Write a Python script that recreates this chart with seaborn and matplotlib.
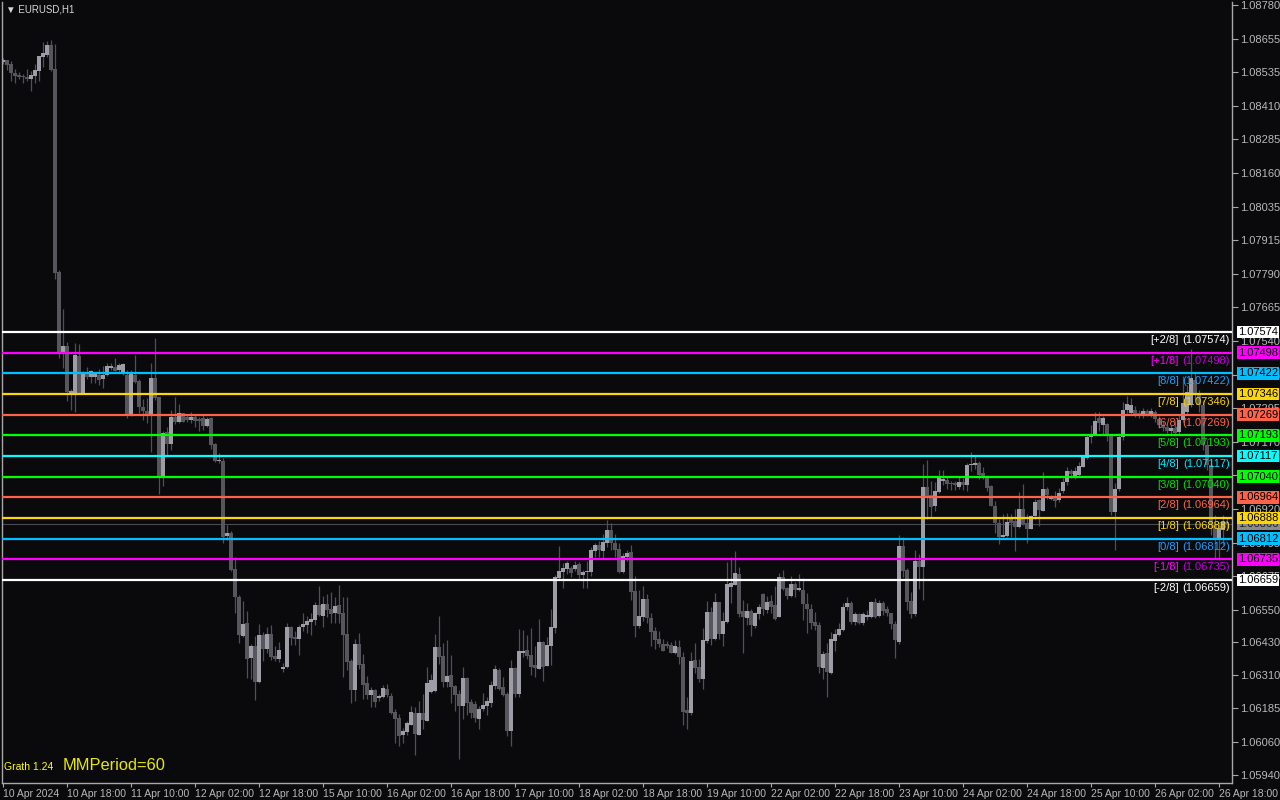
import matplotlib
matplotlib.use("Agg")
import matplotlib.pyplot as plt
import numpy as np
import pandas as pd
import seaborn as sns

# EURUSD H1, 10 Apr 2024 02:00 .. 26 Apr 2024 20:00
opens = [
    1.08570, 1.08578, 1.08563, 1.08530, 1.08522, 1.08519, 1.08515, 1.08507, 1.08519, 1.08537,
    1.08589, 1.08596, 1.08633, 1.08544, 1.07795, 1.07496, 1.07522, 1.07345, 1.07349, 1.07485,
    1.07349, 1.07426, 1.07408, 1.07408, 1.07415, 1.07400, 1.07415, 1.07441, 1.07445, 1.07434,
    1.07423, 1.07415, 1.07268, 1.07415, 1.07393, 1.07297, 1.07282, 1.07271, 1.07404, 1.07334,
    1.07039, 1.07205, 1.07161, 1.07260, 1.07242, 1.07275, 1.07260, 1.07249, 1.07260, 1.07253,
    1.07257, 1.07227, 1.07257, 1.07161, 1.07098, 1.07098, 1.06821, 1.06832, 1.06699, 1.06596,
    1.06452, 1.06500, 1.06371, 1.06415, 1.06282, 1.06456, 1.06404, 1.06459, 1.06378, 1.06367,
    1.06330, 1.06338, 1.06485, 1.06448, 1.06441, 1.06485, 1.06493, 1.06504, 1.06511, 1.06567,
    1.06526, 1.06570, 1.06552, 1.06537, 1.06567, 1.06537, 1.06459, 1.06360, 1.06253, 1.06423,
    1.06349, 1.06279, 1.06234, 1.06253, 1.06223, 1.06227, 1.06257, 1.06231, 1.06172, 1.06150,
    1.06087, 1.06098, 1.06124, 1.06168, 1.06087, 1.06168, 1.06138, 1.06245, 1.06249, 1.06412,
    1.06378, 1.06282, 1.06308, 1.06268, 1.06238, 1.06194, 1.06297, 1.06209, 1.06201, 1.06146,
    1.06183, 1.06194, 1.06205, 1.06268, 1.06327, 1.06264, 1.06238, 1.06102, 1.06334, 1.06238,
    1.06389, 1.06400, 1.06382, 1.06345, 1.06330, 1.06430, 1.06341, 1.06415, 1.06482, 1.06666,
    1.06688, 1.06699, 1.06703, 1.06699, 1.06718, 1.06677, 1.06688, 1.06688, 1.06766, 1.06788,
    1.06766, 1.06795, 1.06843, 1.06795, 1.06773, 1.06688, 1.06744, 1.06762, 1.06618, 1.06489,
    1.06522, 1.06589, 1.06519, 1.06471, 1.06441, 1.06423, 1.06423, 1.06419, 1.06389, 1.06412,
    1.06375, 1.06179, 1.06168, 1.06364, 1.06338, 1.06293, 1.06434, 1.06541, 1.06441, 1.06578,
    1.06459, 1.06504, 1.06633, 1.06640, 1.06681, 1.06544, 1.06519, 1.06544, 1.06489, 1.06533,
    1.06607, 1.06548, 1.06581, 1.06567, 1.06522, 1.06670, 1.06629, 1.06600, 1.06644, 1.06622,
    1.06622, 1.06570, 1.06552, 1.06504, 1.06493, 1.06334, 1.06389, 1.06316, 1.06434, 1.06456,
    1.06474, 1.06559, 1.06574, 1.06504, 1.06533, 1.06500, 1.06522, 1.06522, 1.06578, 1.06526,
    1.06574, 1.06552, 1.06537, 1.06496, 1.06430, 1.06784, 1.06696, 1.06581, 1.06533, 1.06729,
    1.06707, 1.07002, 1.06972, 1.06932, 1.06984, 1.07024, 1.07028, 1.07017, 1.07017, 1.07002,
    1.07020, 1.07009, 1.07083, 1.07083, 1.07090, 1.07054, 1.07039, 1.07006, 1.06932, 1.06869,
    1.06818, 1.06821, 1.06884, 1.06877, 1.06854, 1.06921, 1.06869, 1.06847, 1.06895, 1.06954,
    1.06913, 1.06995, 1.06958, 1.06965, 1.06954, 1.06987, 1.07020, 1.07061, 1.07039, 1.07046,
    1.07076, 1.07109, 1.07186, 1.07194, 1.07257, 1.07231, 1.07234, 1.07194, 1.06910, 1.06995,
    1.07186, 1.07286, 1.07275, 1.07286, 1.07275, 1.07264, 1.07282, 1.07268, 1.07279, 1.07253,
    1.07231, 1.07223, 1.07209, 1.07220, 1.07205, 1.07249, 1.07279, 1.07305, 1.07397, 1.07341,
    1.07305, 1.07157, 1.07083, 1.06862, 1.06806, 1.06843, 1.06873,
]
highs = [
    1.08585, 1.08578, 1.08574, 1.08544, 1.08533, 1.08526, 1.08544, 1.08537, 1.08563, 1.08592,
    1.08644, 1.08648, 1.08651, 1.08637, 1.07803, 1.07659, 1.07537, 1.07364, 1.07533, 1.07530,
    1.07430, 1.07445, 1.07434, 1.07426, 1.07437, 1.07448, 1.07459, 1.07459, 1.07478, 1.07459,
    1.07459, 1.07434, 1.07434, 1.07489, 1.07400, 1.07327, 1.07330, 1.07459, 1.07552, 1.07334,
    1.07209, 1.07223, 1.07286, 1.07334, 1.07308, 1.07275, 1.07268, 1.07279, 1.07271, 1.07260,
    1.07271, 1.07260, 1.07260, 1.07164, 1.07127, 1.07109, 1.06862, 1.06840, 1.06744, 1.06603,
    1.06581, 1.06544, 1.06423, 1.06452, 1.06496, 1.06467, 1.06485, 1.06493, 1.06415, 1.06430,
    1.06352, 1.06500, 1.06489, 1.06471, 1.06493, 1.06537, 1.06526, 1.06537, 1.06578, 1.06637,
    1.06600, 1.06607, 1.06615, 1.06596, 1.06640, 1.06596, 1.06596, 1.06367, 1.06441, 1.06463,
    1.06386, 1.06305, 1.06264, 1.06257, 1.06238, 1.06271, 1.06275, 1.06242, 1.06183, 1.06164,
    1.06113, 1.06138, 1.06194, 1.06190, 1.06212, 1.06238, 1.06338, 1.06312, 1.06459, 1.06526,
    1.06426, 1.06437, 1.06382, 1.06271, 1.06253, 1.06338, 1.06301, 1.06220, 1.06212, 1.06194,
    1.06242, 1.06227, 1.06286, 1.06345, 1.06334, 1.06301, 1.06245, 1.06364, 1.06338, 1.06478,
    1.06474, 1.06456, 1.06482, 1.06415, 1.06515, 1.06434, 1.06448, 1.06552, 1.06677, 1.06784,
    1.06721, 1.06729, 1.06710, 1.06729, 1.06725, 1.06696, 1.06729, 1.06781, 1.06795, 1.06803,
    1.06829, 1.06880, 1.06869, 1.06829, 1.06795, 1.06758, 1.06770, 1.06788, 1.06674, 1.06622,
    1.06637, 1.06607, 1.06537, 1.06485, 1.06471, 1.06441, 1.06434, 1.06430, 1.06437, 1.06437,
    1.06393, 1.06227, 1.06393, 1.06426, 1.06367, 1.06482, 1.06581, 1.06559, 1.06611, 1.06578,
    1.06541, 1.06725, 1.06744, 1.06766, 1.06707, 1.06585, 1.06574, 1.06552, 1.06541, 1.06570,
    1.06611, 1.06600, 1.06603, 1.06637, 1.06685, 1.06696, 1.06633, 1.06674, 1.06651, 1.06681,
    1.06666, 1.06611, 1.06570, 1.06541, 1.06504, 1.06397, 1.06426, 1.06467, 1.06478, 1.06500,
    1.06574, 1.06596, 1.06581, 1.06541, 1.06537, 1.06541, 1.06548, 1.06581, 1.06592, 1.06585,
    1.06581, 1.06563, 1.06537, 1.06508, 1.06825, 1.06818, 1.06703, 1.06615, 1.06770, 1.06755,
    1.07087, 1.07102, 1.07024, 1.07020, 1.07065, 1.07065, 1.07043, 1.07024, 1.07024, 1.07039,
    1.07035, 1.07090, 1.07131, 1.07120, 1.07098, 1.07076, 1.07046, 1.07009, 1.06950, 1.06884,
    1.06902, 1.06906, 1.06902, 1.06921, 1.06984, 1.07013, 1.06902, 1.06899, 1.06958, 1.06958,
    1.07057, 1.07002, 1.06972, 1.06987, 1.06998, 1.07035, 1.07076, 1.07068, 1.07076, 1.07094,
    1.07120, 1.07194, 1.07231, 1.07279, 1.07279, 1.07264, 1.07238, 1.07194, 1.07017, 1.07201,
    1.07316, 1.07338, 1.07330, 1.07301, 1.07286, 1.07294, 1.07290, 1.07294, 1.07286, 1.07264,
    1.07245, 1.07234, 1.07231, 1.07249, 1.07268, 1.07412, 1.07378, 1.07511, 1.07426, 1.07360,
    1.07323, 1.07175, 1.07102, 1.06899, 1.06873, 1.06899, 1.06888,
]
lows = [
    1.08563, 1.08541, 1.08500, 1.08493, 1.08507, 1.08493, 1.08500, 1.08463, 1.08493, 1.08500,
    1.08552, 1.08589, 1.08537, 1.07769, 1.07478, 1.07441, 1.07319, 1.07286, 1.07279, 1.07349,
    1.07349, 1.07400, 1.07386, 1.07386, 1.07378, 1.07367, 1.07412, 1.07434, 1.07430, 1.07423,
    1.07415, 1.07257, 1.07264, 1.07386, 1.07275, 1.07249, 1.07238, 1.07131, 1.07323, 1.06976,
    1.07006, 1.07120, 1.07139, 1.07234, 1.07238, 1.07242, 1.07242, 1.07238, 1.07223, 1.07209,
    1.07212, 1.07223, 1.07142, 1.07094, 1.07090, 1.06795, 1.06806, 1.06692, 1.06537, 1.06426,
    1.06448, 1.06297, 1.06293, 1.06216, 1.06279, 1.06360, 1.06389, 1.06364, 1.06360, 1.06356,
    1.06319, 1.06334, 1.06419, 1.06419, 1.06382, 1.06471, 1.06463, 1.06456, 1.06493, 1.06526,
    1.06485, 1.06522, 1.06500, 1.06500, 1.06500, 1.06301, 1.06327, 1.06205, 1.06212, 1.06330,
    1.06220, 1.06220, 1.06190, 1.06190, 1.06212, 1.06223, 1.06227, 1.06164, 1.06057, 1.06046,
    1.06057, 1.06087, 1.06124, 1.06013, 1.06087, 1.06109, 1.06138, 1.06242, 1.06245, 1.06349,
    1.06264, 1.06264, 1.06205, 1.06175, 1.05998, 1.06146, 1.06161, 1.06150, 1.06135, 1.06109,
    1.06175, 1.06161, 1.06190, 1.06257, 1.06253, 1.06231, 1.06083, 1.06046, 1.06227, 1.06227,
    1.06375, 1.06367, 1.06308, 1.06301, 1.06330, 1.06286, 1.06341, 1.06345, 1.06463, 1.06659,
    1.06629, 1.06681, 1.06670, 1.06692, 1.06666, 1.06629, 1.06629, 1.06674, 1.06744, 1.06744,
    1.06736, 1.06781, 1.06770, 1.06744, 1.06685, 1.06685, 1.06729, 1.06585, 1.06448, 1.06482,
    1.06508, 1.06500, 1.06415, 1.06404, 1.06412, 1.06397, 1.06408, 1.06389, 1.06386, 1.06349,
    1.06124, 1.06109, 1.06161, 1.06316, 1.06282, 1.06257, 1.06426, 1.06419, 1.06437, 1.06441,
    1.06415, 1.06500, 1.06574, 1.06640, 1.06522, 1.06389, 1.06493, 1.06452, 1.06482, 1.06515,
    1.06530, 1.06537, 1.06537, 1.06511, 1.06522, 1.06622, 1.06589, 1.06596, 1.06596, 1.06618,
    1.06511, 1.06463, 1.06478, 1.06474, 1.06316, 1.06293, 1.06227, 1.06312, 1.06397, 1.06452,
    1.06471, 1.06548, 1.06496, 1.06493, 1.06496, 1.06493, 1.06511, 1.06519, 1.06519, 1.06522,
    1.06530, 1.06526, 1.06478, 1.06371, 1.06423, 1.06670, 1.06548, 1.06519, 1.06526, 1.06626,
    1.06585, 1.06884, 1.06891, 1.06913, 1.06980, 1.07009, 1.06995, 1.06991, 1.06991, 1.06995,
    1.06991, 1.06987, 1.07061, 1.07068, 1.07031, 1.07031, 1.06987, 1.06932, 1.06832, 1.06792,
    1.06818, 1.06818, 1.06818, 1.06766, 1.06851, 1.06862, 1.06795, 1.06847, 1.06884, 1.06858,
    1.06913, 1.06958, 1.06954, 1.06928, 1.06947, 1.06980, 1.07009, 1.07035, 1.07031, 1.07043,
    1.07076, 1.07105, 1.07164, 1.07194, 1.07209, 1.07194, 1.07172, 1.06899, 1.06770, 1.06987,
    1.07175, 1.07275, 1.07268, 1.07260, 1.07257, 1.07257, 1.07264, 1.07260, 1.07242, 1.07220,
    1.07209, 1.07201, 1.07198, 1.07190, 1.07198, 1.07242, 1.07271, 1.07297, 1.07323, 1.07279,
    1.07138, 1.07065, 1.06825, 1.06740, 1.06733, 1.06788, 1.06843,
]
closes = [
    1.08578, 1.08559, 1.08530, 1.08519, 1.08515, 1.08515, 1.08507, 1.08522, 1.08541, 1.08592,
    1.08603, 1.08633, 1.08541, 1.07792, 1.07493, 1.07522, 1.07352, 1.07356, 1.07489, 1.07349,
    1.07426, 1.07408, 1.07430, 1.07419, 1.07397, 1.07415, 1.07448, 1.07448, 1.07430, 1.07452,
    1.07456, 1.07271, 1.07419, 1.07389, 1.07297, 1.07282, 1.07271, 1.07404, 1.07330, 1.07039,
    1.07201, 1.07161, 1.07260, 1.07242, 1.07275, 1.07242, 1.07249, 1.07260, 1.07245, 1.07245,
    1.07227, 1.07253, 1.07157, 1.07098, 1.07102, 1.06818, 1.06832, 1.06696, 1.06596, 1.06456,
    1.06496, 1.06367, 1.06415, 1.06282, 1.06456, 1.06404, 1.06459, 1.06375, 1.06367, 1.06400,
    1.06338, 1.06485, 1.06445, 1.06441, 1.06485, 1.06496, 1.06508, 1.06515, 1.06567, 1.06530,
    1.06570, 1.06548, 1.06533, 1.06563, 1.06533, 1.06456, 1.06356, 1.06253, 1.06423, 1.06345,
    1.06271, 1.06234, 1.06253, 1.06209, 1.06231, 1.06260, 1.06234, 1.06168, 1.06146, 1.06083,
    1.06102, 1.06131, 1.06172, 1.06090, 1.06168, 1.06142, 1.06279, 1.06290, 1.06412, 1.06375,
    1.06282, 1.06305, 1.06264, 1.06234, 1.06194, 1.06297, 1.06205, 1.06168, 1.06150, 1.06183,
    1.06198, 1.06212, 1.06271, 1.06330, 1.06257, 1.06234, 1.06102, 1.06334, 1.06238, 1.06397,
    1.06397, 1.06378, 1.06338, 1.06334, 1.06430, 1.06338, 1.06419, 1.06485, 1.06670, 1.06692,
    1.06703, 1.06721, 1.06685, 1.06714, 1.06677, 1.06688, 1.06692, 1.06770, 1.06788, 1.06770,
    1.06799, 1.06843, 1.06795, 1.06770, 1.06688, 1.06747, 1.06758, 1.06615, 1.06489, 1.06526,
    1.06589, 1.06519, 1.06467, 1.06437, 1.06423, 1.06397, 1.06415, 1.06389, 1.06415, 1.06375,
    1.06172, 1.06168, 1.06360, 1.06334, 1.06293, 1.06437, 1.06541, 1.06441, 1.06578, 1.06459,
    1.06508, 1.06644, 1.06648, 1.06685, 1.06533, 1.06522, 1.06544, 1.06493, 1.06537, 1.06559,
    1.06552, 1.06578, 1.06559, 1.06515, 1.06670, 1.06626, 1.06600, 1.06644, 1.06622, 1.06629,
    1.06570, 1.06552, 1.06500, 1.06489, 1.06338, 1.06386, 1.06319, 1.06441, 1.06459, 1.06478,
    1.06559, 1.06574, 1.06504, 1.06533, 1.06500, 1.06533, 1.06530, 1.06578, 1.06522, 1.06574,
    1.06544, 1.06537, 1.06496, 1.06437, 1.06784, 1.06692, 1.06578, 1.06533, 1.06729, 1.06707,
    1.07002, 1.06965, 1.06928, 1.06987, 1.07035, 1.07031, 1.07013, 1.07013, 1.07009, 1.07020,
    1.07009, 1.07083, 1.07087, 1.07090, 1.07046, 1.07039, 1.06998, 1.06932, 1.06869, 1.06818,
    1.06825, 1.06873, 1.06869, 1.06854, 1.06921, 1.06865, 1.06847, 1.06895, 1.06947, 1.06917,
    1.06995, 1.06972, 1.06965, 1.06950, 1.06980, 1.07020, 1.07061, 1.07050, 1.07061, 1.07079,
    1.07113, 1.07186, 1.07198, 1.07245, 1.07238, 1.07257, 1.07190, 1.06910, 1.06995, 1.07186,
    1.07286, 1.07308, 1.07305, 1.07271, 1.07268, 1.07282, 1.07271, 1.07282, 1.07253, 1.07231,
    1.07220, 1.07209, 1.07220, 1.07201, 1.07249, 1.07312, 1.07352, 1.07404, 1.07341, 1.07305,
    1.07157, 1.07083, 1.06862, 1.06806, 1.06851, 1.06873, 1.06866,
]

# Murrey Math levels
mm_names = ["+2/8", "+1/8", "8/8", "7/8", "6/8", "5/8", "4/8", "3/8", "2/8", "1/8", "0/8", "-1/8", "-2/8"]
mm_values = [1.07574, 1.07498, 1.07422, 1.07346, 1.07269, 1.07193, 1.07117,
             1.07040, 1.06964, 1.06888, 1.06812, 1.06735, 1.06659]
mm_colors = ["#ffffff", "#ff00ff", "#00bfff", "#ffd700", "#ff6347", "#00ff00", "#00ffff",
             "#00ff00", "#ff6347", "#ffd700", "#00bfff", "#ff00ff", "#ffffff"]
mm_text_colors = ["#ffffff", "#c000d8", "#1e9fff", "#ffd700", "#ff6347", "#00e000", "#00e8ff",
                  "#00e000", "#ff6347", "#ffd700", "#1e9fff", "#c000d8", "#ffffff"]
bid_price = 1.06866

price_ticks = [1.08780, 1.08655, 1.08535, 1.08410, 1.08285, 1.08160, 1.08035, 1.07915,
               1.07790, 1.07665, 1.07540, 1.07415, 1.07295, 1.07170, 1.07045, 1.06920,
               1.06795, 1.06675, 1.06550, 1.06430, 1.06310, 1.06185, 1.06060, 1.05940]
time_labels = ["10 Apr 2024", "10 Apr 18:00", "11 Apr 10:00", "12 Apr 02:00", "12 Apr 18:00",
               "15 Apr 10:00", "16 Apr 02:00", "16 Apr 18:00", "17 Apr 10:00", "18 Apr 02:00",
               "18 Apr 18:00", "19 Apr 10:00", "22 Apr 02:00", "22 Apr 18:00", "23 Apr 10:00",
               "24 Apr 02:00", "24 Apr 18:00", "25 Apr 10:00", "26 Apr 02:00", "26 Apr 18:00"]

bg = "#0a0a0d"
axis_col = "#a8a8a8"
label_col = "#b8b8b8"
bull_col = "#9d9da8"
bear_col = "#56565c"
wick_col = "#505056"

sns.set_theme(style="dark", rc={"axes.facecolor": bg, "figure.facecolor": bg,
                                "axes.edgecolor": axis_col, "axes.grid": False})
plt.rcParams["font.family"] = ["Liberation Sans", "DejaVu Sans"]

df = pd.DataFrame({"open": opens, "high": highs, "low": lows, "close": closes})
df["high"] = df[["open", "high", "close"]].max(axis=1)
df["low"] = df[["open", "low", "close"]].min(axis=1)
df["x"] = np.arange(len(df))
df["up"] = df["close"] >= df["open"]

fig = plt.figure(figsize=(12.8, 8), dpi=100)
ax = fig.add_axes([2 / 1280, 17 / 800, 1230 / 1280, 781 / 800])
ax.set_facecolor(bg)

# bid line (behind candles)
ax.axhline(bid_price, color="#4a4a52", lw=0.8, zorder=1)

# candles
ax.vlines(df["x"], df["low"], df["high"], color=wick_col, lw=0.9, zorder=2)
body_bottom = df[["open", "close"]].min(axis=1)
body_height = np.maximum((df["close"] - df["open"]).abs(), 0.00003)
for up, col in [(True, bull_col), (False, bear_col)]:
    m = df["up"] == up
    ax.bar(df.loc[m, "x"], body_height[m], bottom=body_bottom[m], width=0.78,
           color=col, linewidth=0, zorder=3)

# MM lines
for v, col in zip(mm_values, mm_colors):
    ax.axhline(v, color=col, lw=1.6, zorder=4)

ax.set_xlim(-0.25, 307.25)
ax.set_ylim(1.05910, 1.08792)

# level labels on the right edge of the chart
for name, v, tc, lc in zip(mm_names, mm_values, mm_text_colors, mm_colors):
    ax.annotate(f"({v:.5f})", xy=(1, v), xycoords=("axes fraction", "data"),
                xytext=(-2, -3), textcoords="offset pixels", ha="right", va="top",
                fontsize=8, color=tc, zorder=6)
    ax.annotate(f"[{name}]", xy=(1, v), xycoords=("axes fraction", "data"),
                xytext=(-53, -3), textcoords="offset pixels", ha="right", va="top",
                fontsize=8, color=lc if name in ("+1/8", "-1/8") else tc, zorder=6)

# price axis
ax.yaxis.tick_right()
ax.set_yticks(price_ticks)
ax.set_yticklabels([f"{t:.5f}" for t in price_ticks])
ax.tick_params(axis="y", which="both", right=True, left=False, length=4, width=0.8,
               color=axis_col, labelcolor=label_col, labelsize=8, pad=2)

# price boxes
ax.annotate(f"{bid_price:.5f}", xy=(1, bid_price), xycoords=("axes fraction", "data"),
            xytext=(6, 0), textcoords="offset pixels", ha="left", va="center",
            fontsize=8, color="#202020", annotation_clip=False, zorder=7,
            bbox=dict(boxstyle="square,pad=0.12", fc="#8a8a8a", ec="none"))
for v, col in zip(mm_values, mm_colors):
    ax.annotate(f"{v:.5f}", xy=(1, v), xycoords=("axes fraction", "data"),
                xytext=(6, 0), textcoords="offset pixels", ha="left", va="center",
                fontsize=8, color="black", annotation_clip=False, zorder=8,
                bbox=dict(boxstyle="square,pad=0.12", fc=col, ec="none"))

# time axis
ax.set_xticks(np.arange(0, 16 * len(time_labels), 16))
ax.set_xticklabels(time_labels, ha="left")
ax.tick_params(axis="x", bottom=True, length=3, width=0.8, color=axis_col,
               labelcolor=label_col, labelsize=7.5, pad=1)

for side in ["left", "bottom", "right"]:
    ax.spines[side].set_color(axis_col)
    ax.spines[side].set_linewidth(1)
    ax.spines[side].set_visible(True)
ax.spines["top"].set_visible(False)

fig.text(6 / 1280, 1 - 10 / 800, "\u25bc EURUSD,H1", color="#d8d8d8", fontsize=7, va="center")
fig.text(4 / 1280, 1 - 767 / 800, "Grath 1.24", color="#ffff00", fontsize=7.5, va="center")
fig.text(63 / 1280, 1 - 765 / 800, "MMPeriod=60", color="#e8e800", fontsize=11.8, va="center")

fig.savefig("out.png", dpi=100, facecolor=bg)
